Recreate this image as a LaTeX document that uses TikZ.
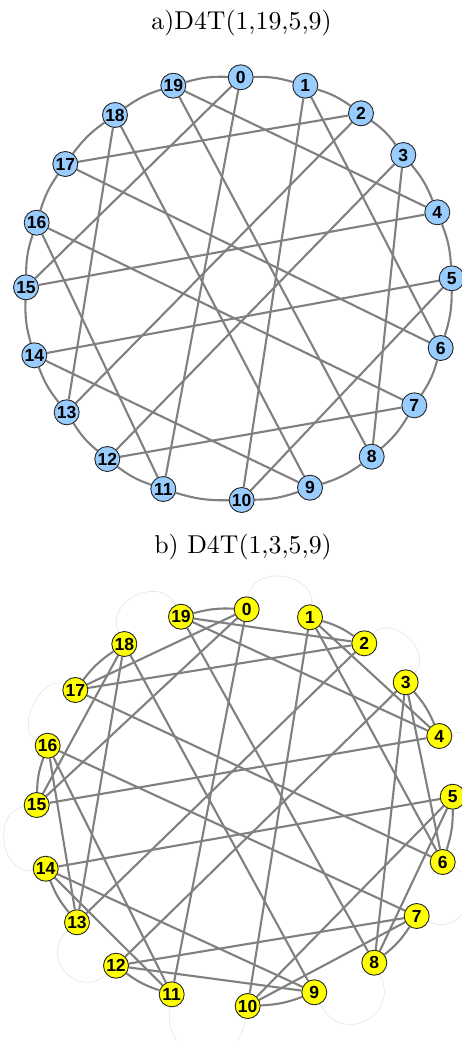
\documentclass[tikz,border=0pt]{standalone}
\usepackage{fontspec}
\newfontfamily\lblfont{Liberation Sans}
\newfontfamily\headfont{lmroman10-regular}[Extension=.otf]
\pgfdeclarelayer{bg}
\pgfsetlayers{bg,main}

\definecolor{nodeblue}{RGB}{153,204,255}
\definecolor{nodeyellow}{RGB}{255,255,0}
\definecolor{edgegray}{RGB}{128,128,128}
\definecolor{ghostgray}{RGB}{228,228,228}

\tikzset{
  vtx/.style={circle, draw=black!85, line width=0.9pt, minimum size=25pt,
    inner sep=0pt, font=\lblfont\bfseries\fontsize{17.5}{17.5}\selectfont},
  vtxa/.style={vtx, fill=nodeblue},
  vtxb/.style={vtx, fill=nodeyellow},
  link/.style={draw=edgegray, line width=2.1pt},
  ghost/.style={draw=ghostgray, line width=0.6pt},
  heading/.style={font=\headfont\fontsize{25.8}{30}\selectfont, anchor=base, inner sep=0pt}
}

\begin{document}
\begin{tikzpicture}[x=1pt,y=-1pt]
\useasboundingbox (0,0) rectangle (461,1041);

% headings
\node[heading] (ta) at (241.5,29.3) {a)D4T(1,19,5,9)};
\node[heading] (tb) at (243,553.3) {b) D4T(1,3,5,9)};

% ---- graph a: D4T(1,19,5,9) ----
\foreach \i/\x/\y in {0/240.7/77.3, 1/305.3/85.7, 2/361/113.3, 3/403.3/155,
  4/437.3/212.3, 5/451.7/278.3, 6/440.7/348, 7/414.3/405.3, 8/371.7/456.7,
  9/310/487.7, 10/241.7/500, 11/163.3/489, 12/107.3/459, 13/66.7/412.3,
  14/34.3/355.3, 15/26/287.3, 16/36.7/222.7, 17/65.3/164, 18/115/115,
  19/173.3/85.7}
  \node[vtxa] (a\i) at (\x,\y) {\i};

\begin{pgfonlayer}{bg}
  % outer cycle
  \foreach \i in {0,...,19} {
    \pgfmathtruncatemacro{\j}{mod(\i+1,20)}
    \draw[link] (a\i) to[bend left=9] (a\j);
  }
  % chords from the odd vertices: +5 and +9
  \foreach \i in {1,3,...,19} {
    \pgfmathtruncatemacro{\j}{mod(\i+5,20)}
    \pgfmathtruncatemacro{\k}{mod(\i+9,20)}
    \draw[link] (a\i) -- (a\j);
    \draw[link] (a\i) -- (a\k);
  }
\end{pgfonlayer}

% ---- graph b: D4T(1,3,5,9) ----
\foreach \i/\x/\y in {0/246.7/609.3, 1/310/617.3, 2/364.3/643.3, 3/405.7/682.3,
  4/439.3/736, 5/452.7/796.7, 6/442.7/862, 7/416.7/916, 8/374.3/962.7,
  9/314.3/992.3, 10/247.7/1006, 11/171.7/994.3, 12/116/965.7, 13/77/922.3,
  14/45.7/868.7, 15/36.7/805, 16/47.7/745.7, 17/75.3/690, 18/124.3/644,
  19/181/616.7}
  \node[vtxb] (b\i) at (\x,\y) {\i};

\begin{pgfonlayer}{bg}
  % faint loops between neighbours that are not joined
  \foreach \i/\l in {0/1.3, 2/1.3, 4/1.4, 6/1.6, 8/1.8, 10/1.9, 12/1.7,
    14/1.3, 16/1.0, 18/1.4} {
    \pgfmathtruncatemacro{\j}{\i+1}
    \draw[ghost] (b\i) to[bend left=90, looseness=\l] (b\j);
  }
  % edges from the odd vertices: +1, +3, +5, +9
  \foreach \i in {1,3,...,19} {
    \pgfmathtruncatemacro{\h}{mod(\i+1,20)}
    \pgfmathtruncatemacro{\g}{mod(\i+3,20)}
    \pgfmathtruncatemacro{\j}{mod(\i+5,20)}
    \pgfmathtruncatemacro{\k}{mod(\i+9,20)}
    \draw[link] (b\i) to[bend left=9] (b\h);
    \draw[link] (b\i) -- (b\g);
    \draw[link] (b\i) -- (b\j);
    \draw[link] (b\i) -- (b\k);
  }
\end{pgfonlayer}
\end{tikzpicture}
\end{document}
